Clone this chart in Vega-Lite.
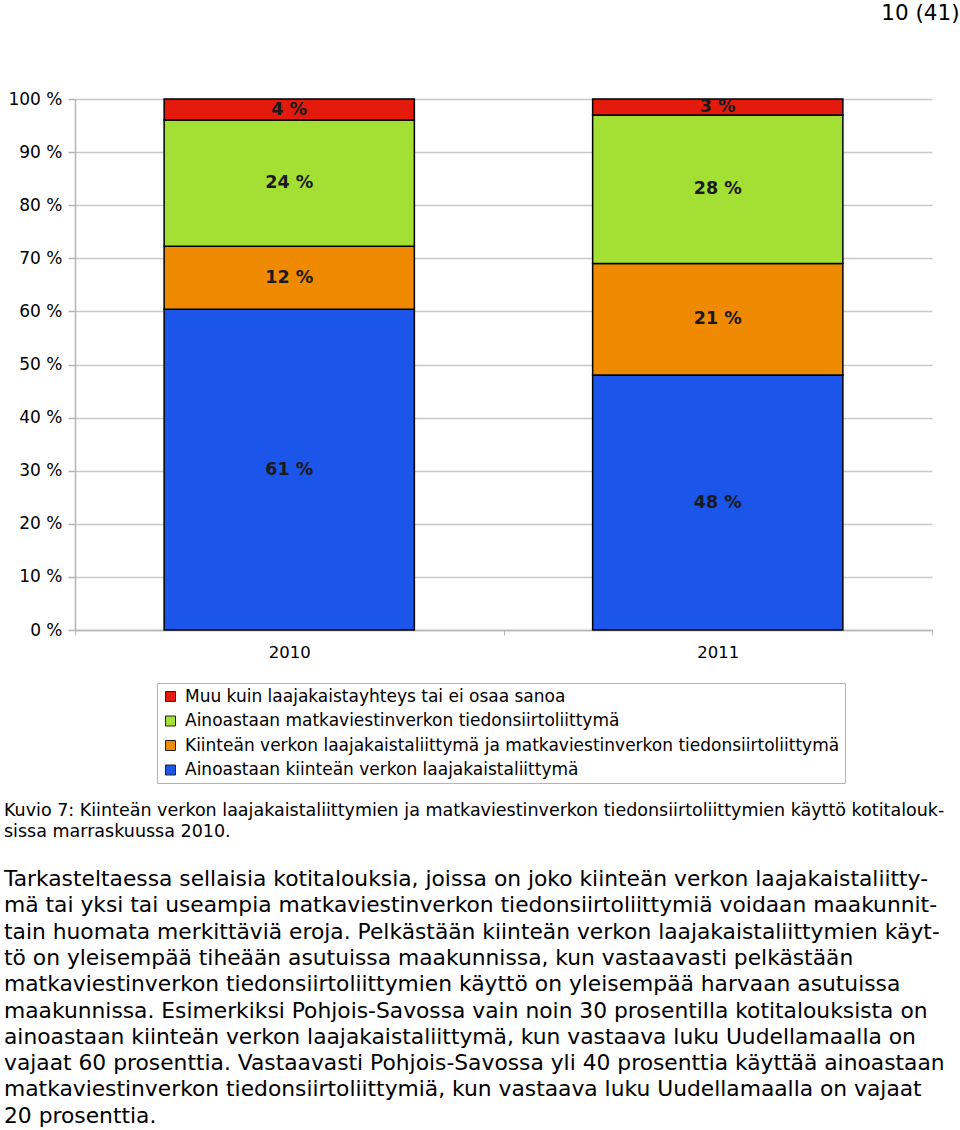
{
  "$schema": "https://vega.github.io/schema/vega-lite/v6.json",
  "background": "white",
  "padding": {"left": 4, "top": 2, "right": 1, "bottom": 2},
  "config": {"view": {"stroke": null}, "font": "DejaVu Sans", "concat": {"spacing": 0}},
  "title": {"text": "10 (41)", "anchor": "end", "frame": "bounds", "fontSize": 21.5, "font": "DejaVu Sans", "fontWeight": "normal", "color": "#000", "offset": 66, "dx": 15},
  "vconcat": [
    {
      "width": 857,
      "height": 531,
      "data": {"values": [
        {"vuosi": "2010", "luokka": "Ainoastaan kiinteän verkon laajakaistaliittymä", "osuus": 61, "pino": 1},
        {"vuosi": "2010", "luokka": "Kiinteän verkon laajakaistaliittymä ja matkaviestinverkon tiedonsiirtoliittymä", "osuus": 12, "pino": 2},
        {"vuosi": "2010", "luokka": "Ainoastaan matkaviestinverkon tiedonsiirtoliittymä", "osuus": 24, "pino": 3},
        {"vuosi": "2010", "luokka": "Muu kuin laajakaistayhteys tai ei osaa sanoa", "osuus": 4, "pino": 4},
        {"vuosi": "2011", "luokka": "Ainoastaan kiinteän verkon laajakaistaliittymä", "osuus": 48, "pino": 1},
        {"vuosi": "2011", "luokka": "Kiinteän verkon laajakaistaliittymä ja matkaviestinverkon tiedonsiirtoliittymä", "osuus": 21, "pino": 2},
        {"vuosi": "2011", "luokka": "Ainoastaan matkaviestinverkon tiedonsiirtoliittymä", "osuus": 28, "pino": 3},
        {"vuosi": "2011", "luokka": "Muu kuin laajakaistayhteys tai ei osaa sanoa", "osuus": 3, "pino": 4}
      ]},
      "title": {
        "text": ["Kuvio 7: Kiinteän verkon laajakaistaliittymien ja matkaviestinverkon tiedonsiirtoliittymien käyttö kotitalouk-", "sissa marraskuussa 2010."],
        "subtitle": [
          "Tarkasteltaessa sellaisia kotitalouksia, joissa on joko kiinteän verkon laajakaistaliitty-",
          "mä tai yksi tai useampia matkaviestinverkon tiedonsiirtoliittymiä voidaan maakunnit-",
          "tain huomata merkittäviä eroja. Pelkästään kiinteän verkon laajakaistaliittymien käyt-",
          "tö on yleisempää tiheään asutuissa maakunnissa, kun vastaavasti pelkästään",
          "matkaviestinverkon tiedonsiirtoliittymien käyttö on yleisempää harvaan asutuissa",
          "maakunnissa. Esimerkiksi Pohjois-Savossa vain noin 30 prosentilla kotitalouksista on",
          "ainoastaan kiinteän verkon laajakaistaliittymä, kun vastaava luku Uudellamaalla on",
          "vajaat 60 prosenttia. Vastaavasti Pohjois-Savossa yli 40 prosenttia käyttää ainoastaan",
          "matkaviestinverkon tiedonsiirtoliittymiä, kun vastaava luku Uudellamaalla on vajaat",
          "20 prosenttia."
        ],
        "orient": "bottom",
        "anchor": "start",
        "frame": "bounds",
        "offset": 141,
        "font": "DejaVu Sans",
        "fontSize": 17.5,
        "fontWeight": "normal",
        "lineHeight": 21,
        "color": "#000",
        "subtitleFont": "DejaVu Sans",
        "subtitleFontSize": 21.8,
        "subtitleLineHeight": 26.3,
        "subtitlePadding": 29,
        "subtitleColor": "#000"
      },
      "encoding": {
        "x": {
          "field": "vuosi",
          "type": "nominal",
          "scale": {"paddingInner": 0, "paddingOuter": 0},
          "axis": {
            "title": null,
            "labelAngle": 0,
            "tickBand": "extent",
            "domainColor": "#b4b4b4",
            "domainWidth": 1.5,
            "tickColor": "#b4b4b4",
            "tickSize": 5,
            "labelFontSize": 16.5,
            "labelFont": "DejaVu Sans",
            "labelColor": "#000",
            "labelPadding": 9,
            "grid": false
          }
        }
      },
      "layer": [
        {
          "mark": {"type": "bar", "width": {"band": 0.584}, "stroke": "#000", "strokeWidth": 1.5},
          "encoding": {
            "y": {
              "field": "osuus",
              "type": "quantitative",
              "stack": "normalize",
              "scale": {"domain": [0, 1]},
              "axis": {
                "title": null,
                "values": [0, 0.05, 0.1, 0.15, 0.2, 0.25, 0.3, 0.35, 0.4, 0.45, 0.5, 0.55, 0.6, 0.65, 0.7, 0.75, 0.8, 0.85, 0.9, 0.95, 1],
                "labelExpr": "round(datum.value*100) % 10 === 0 ? round(datum.value*100) + ' %' : ''",
                "labelOverlap": false,
                "labelFontSize": 17,
                "labelFont": "DejaVu Sans",
                "labelColor": "#000",
                "labelPadding": 6,
                "minExtent": 71,
                "domainColor": "#b4b4b4",
                "domainWidth": 1.5,
                "gridColor": "#c8c8c8",
                "gridWidth": 1.5,
                "tickColor": "#b4b4b4",
                "tickWidth": 1.5,
                "tickSize": 7,
                "tickOpacity": {"condition": {"test": "round(datum.value*100) % 10 === 0", "value": 1}, "value": 0}
              }
            },
            "color": {
              "field": "luokka",
              "type": "nominal",
              "scale": {
                "domain": [
                  "Muu kuin laajakaistayhteys tai ei osaa sanoa",
                  "Ainoastaan matkaviestinverkon tiedonsiirtoliittymä",
                  "Kiinteän verkon laajakaistaliittymä ja matkaviestinverkon tiedonsiirtoliittymä",
                  "Ainoastaan kiinteän verkon laajakaistaliittymä"
                ],
                "range": ["#E41B0C", "#A4E034", "#EE8900", "#1C55EA"]
              },
              "legend": {
                "title": null,
                "orient": "none",
                "legendX": 82,
                "legendY": 584,
                "padding": 5,
                "strokeColor": "#b4b4b4",
                "fillColor": "white",
                "symbolType": "square",
                "symbolSize": 100,
                "symbolStrokeColor": "#222",
                "symbolStrokeWidth": 1,
                "labelFontSize": 17,
                "labelFont": "DejaVu Sans",
                "labelColor": "#000",
                "labelOffset": 6,
                "rowPadding": 6.5,
                "labelLimit": 900
              }
            },
            "order": {"field": "pino", "type": "quantitative"}
          }
        },
        {
          "mark": {"type": "text", "fontWeight": "bold", "fontSize": 17.5, "font": "DejaVu Sans", "color": "#1a1a1a", "text": {"expr": "datum.osuus + ' %'"}},
          "encoding": {
            "y": {"field": "osuus", "type": "quantitative", "stack": "normalize", "bandPosition": 0.5},
            "detail": {"field": "luokka"},
            "order": {"field": "pino", "type": "quantitative"}
          }
        }
      ]
    }
  ]
}
